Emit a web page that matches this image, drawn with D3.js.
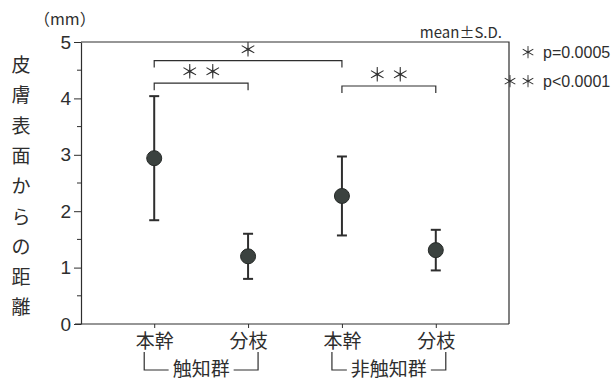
<!DOCTYPE html>
<html>
<head>
<meta charset="utf-8">
<script src="https://cdn.jsdelivr.net/npm/d3@7"></script>
<style>
  html, body { margin: 0; padding: 0; background: #ffffff; }
  svg { display: block; }
  text { font-family: "Noto Sans CJK JP", "Noto Sans", sans-serif; fill: #2e2e2e; }
  .stars { filter: grayscale(1); opacity: 0.99; }
  .stars text { font-family: "Noto Sans CJK JP", sans-serif; }
</style>
</head>
<body>
<svg id="chart" width="615" height="382"></svg>
<script>
// Distance from skin surface (mm): trunk vs branch, palpable vs non-palpable groups
const keys = ["触知-本幹", "触知-分枝", "非触知-本幹", "非触知-分枝"];
const xLabels = ["本幹", "分枝", "本幹", "分枝"];
const groupNames = ["触知群", "非触知群"];
const groupMembers = [[0, 1], [2, 3]];
const means = [2.94, 1.20, 2.27, 1.31];
const sds = [1.10, 0.40, 0.70, 0.36];
const yTicks = [0, 1, 2, 3, 4, 5];
const yMinorTicks = [0.5, 1.5, 2.5, 3.5, 4.5];
const yTitle = "皮膚表面からの距離";
const unitLabel = "（mm）";
const statNote = "mean±S.D.";
// significance brackets: index pairs, star label, bracket level (mm)
const compFrom = [0, 0, 2];
const compTo = [2, 1, 3];
const compLabel = ["＊", "＊＊", "＊＊"];
const compLevel = [4.67, 4.27, 4.22];
const pStars = ["＊", "＊＊"];
const pText = ["p=0.0005", "p<0.0001"];

const W = 615, H = 382;
const margin = { top: 42, right: 106, bottom: 58, left: 81 };
const iw = W - margin.left - margin.right;
const ih = H - margin.top - margin.bottom;
const ink = "#2e2e2e";

const svg = d3.select("#chart");
const g = svg.append("g").attr("transform", `translate(${margin.left},${margin.top})`);

const x = d3.scalePoint().domain(keys).range([0, iw]).padding(0.78);
const y = d3.scaleLinear().domain([0, 5]).range([ih, 0]);

// frame (top and right sides)
g.append("path")
  .attr("d", `M0,0H${iw}V${ih}`)
  .attr("fill", "none").attr("stroke", ink).attr("stroke-width", 1.2);

// y axis with major and minor ticks
const yAxis = g.append("g")
  .call(d3.axisLeft(y).tickValues(yTicks).tickFormat(d3.format("d")).tickSize(7).tickSizeOuter(0));
yAxis.select(".domain").attr("stroke", ink).attr("stroke-width", 1.2);
yAxis.selectAll(".tick line").attr("stroke", ink).attr("stroke-width", 1);
yAxis.selectAll(".tick text")
  .attr("x", -10)
  .style("font-family", "'Liberation Sans', Arial, sans-serif")
  .style("font-size", "19px").attr("fill", ink);
g.append("g").selectAll("line").data(yMinorTicks).join("line")
  .attr("x1", -4).attr("x2", 0)
  .attr("y1", d => y(d)).attr("y2", d => y(d))
  .attr("stroke", ink).attr("stroke-width", 1);

// x axis
const xAxis = g.append("g").attr("transform", `translate(0,${ih})`)
  .call(d3.axisBottom(x).tickSize(4).tickSizeOuter(0).tickFormat((d, i) => xLabels[i]));
xAxis.select(".domain").attr("stroke", ink).attr("stroke-width", 1.2)
  .attr("d", `M-6,0H${iw}`);
xAxis.selectAll(".tick line").attr("stroke", ink);
xAxis.selectAll(".tick text")
  .attr("y", 11)
  .style("font-size", "19px").attr("fill", ink);

// group brackets under the category labels
const gb = g.append("g");
groupMembers.forEach((m, gi) => {
  const cx = (x(keys[m[0]]) + x(keys[m[1]])) / 2;
  const lx = x(keys[m[0]]) - 10;
  const rx = x(keys[m[1]]) + 10;
  const top = ih + 28, bot = ih + 46;
  const label = gb.append("text")
    .attr("x", cx).attr("y", bot).attr("dy", "0.3em")
    .attr("text-anchor", "middle")
    .style("font-size", "19px")
    .text(groupNames[gi]);
  const tw = label.node().getComputedTextLength();
  gb.append("path")
    .attr("d", `M${lx},${top}V${bot}H${cx - tw / 2 - 4}M${cx + tw / 2 + 4},${bot}H${rx}V${top}`)
    .attr("fill", "none").attr("stroke", ink).attr("stroke-width", 1.2);
});

// error bars
const capW = 5;
const bars = g.append("g").selectAll("g").data(keys).join("g");
bars.append("line")
  .attr("x1", d => x(d)).attr("x2", d => x(d))
  .attr("y1", (d, i) => y(means[i] + sds[i]))
  .attr("y2", (d, i) => y(means[i] - sds[i]))
  .attr("stroke", ink).attr("stroke-width", 2);
bars.append("line")
  .attr("x1", d => x(d) - capW).attr("x2", d => x(d) + capW)
  .attr("y1", (d, i) => y(means[i] + sds[i]))
  .attr("y2", (d, i) => y(means[i] + sds[i]))
  .attr("stroke", ink).attr("stroke-width", 2);
bars.append("line")
  .attr("x1", d => x(d) - capW).attr("x2", d => x(d) + capW)
  .attr("y1", (d, i) => y(means[i] - sds[i]))
  .attr("y2", (d, i) => y(means[i] - sds[i]))
  .attr("stroke", ink).attr("stroke-width", 2);
bars.append("circle")
  .attr("cx", d => x(d))
  .attr("cy", (d, i) => y(means[i]))
  .attr("r", 7.5)
  .attr("fill", "#3b423f")
  .attr("stroke", "#262a28").attr("stroke-width", 1);

// significance brackets
const sig = g.append("g");
const sigStars = g.append("g").attr("class", "stars");
compFrom.forEach((f, i) => {
  const x1 = x(keys[f]), x2 = x(keys[compTo[i]]);
  const yy = y(compLevel[i]);
  sig.append("path")
    .attr("d", `M${x1},${yy + 7}V${yy}H${x2}V${yy + 7}`)
    .attr("fill", "none").attr("stroke", ink).attr("stroke-width", 1.2);
  sigStars.append("text")
    .attr("x", (x1 + x2) / 2 + 2).attr("y", yy - 6)
    .attr("dy", "0.1em")
    .attr("text-anchor", "middle")
    .style("font-size", "19px")
    .style("letter-spacing", "4px")
    .text(compLabel[i]);
});

// unit label and y title
svg.append("text")
  .attr("x", 34).attr("y", 25)
  .style("font-size", "16px")
  .text(unitLabel);
svg.append("g").selectAll("text").data(Array.from(yTitle)).join("text")
  .attr("x", 21)
  .attr("y", (d, i) => 72 + i * 30.3)
  .attr("text-anchor", "middle")
  .style("font-size", "19px")
  .text(d => d);

// statistic note and p-value legend
svg.append("text")
  .attr("x", 502).attr("y", 38)
  .attr("text-anchor", "end")
  .style("font-size", "15px")
  .text(statNote);
const legendStars = svg.append("g").attr("class", "stars");
pStars.forEach((s, i) => {
  const yy = 58 + i * 29;
  legendStars.append("text")
    .attr("x", 538).attr("y", yy)
    .attr("text-anchor", "end")
    .style("font-size", "16px")
    .style("letter-spacing", "2px")
    .text(s);
  svg.append("text")
    .attr("x", 543).attr("y", yy)
    .style("font-family", "'Liberation Sans', Arial, sans-serif")
    .style("font-size", "16px")
    .text(pText[i]);
});
</script>
</body>
</html>
